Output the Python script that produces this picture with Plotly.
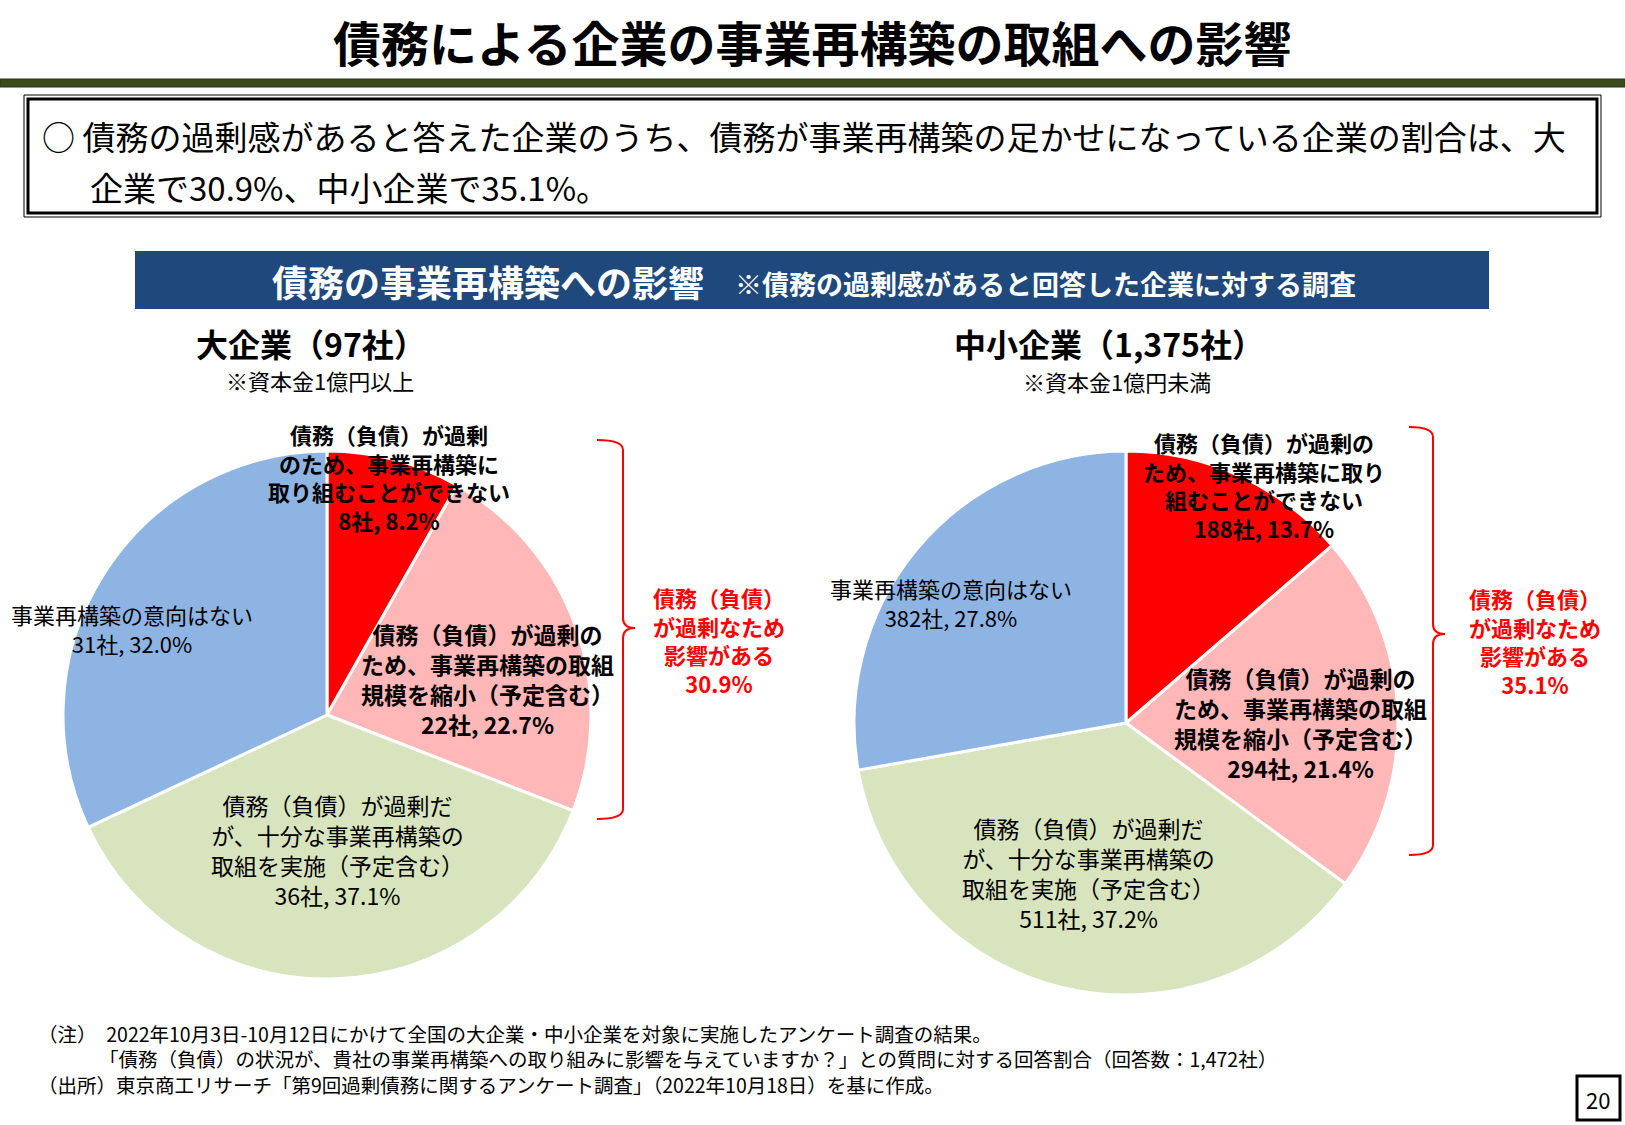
import plotly.graph_objects as go

W, H = 1625, 1125
FONT = "Noto Sans CJK JP"

# ---------------- data ----------------
categories = [
    "債務（負債）が過剰のため、事業再構築に取り組むことができない",
    "債務（負債）が過剰のため、事業再構築の取組規模を縮小（予定含む）",
    "債務（負債）が過剰だが、十分な事業再構築の取組を実施（予定含む）",
    "事業再構築の意向はない",
]
colors = ["#FF0000", "#FFB7B7", "#D7E4BD", "#8EB4E3"]

large_counts = [8, 22, 36, 31]
large_pcts = [8.2, 22.7, 37.1, 32.0]
sme_counts = [188, 294, 511, 382]
sme_pcts = [13.7, 21.4, 37.2, 27.8]

# label text as broken in the reference
large_label_lines = [
    "債務（負債）が過剰<br>のため、事業再構築に<br>取り組むことができない",
    "債務（負債）が過剰の<br>ため、事業再構築の取組<br>規模を縮小（予定含む）",
    "債務（負債）が過剰だ<br>が、十分な事業再構築の<br>取組を実施（予定含む）",
    "事業再構築の意向はない",
]
sme_label_lines = [
    "債務（負債）が過剰の<br>ため、事業再構築に取り<br>組むことができない",
    "債務（負債）が過剰の<br>ため、事業再構築の取組<br>規模を縮小（予定含む）",
    "債務（負債）が過剰だ<br>が、十分な事業再構築の<br>取組を実施（予定含む）",
    "事業再構築の意向はない",
]
bold_flags = [True, True, False, False]

large_title = "大企業（97社）"
large_note = "※資本金1億円以上"
sme_title = "中小企業（1,375社）"
sme_note = "※資本金1億円未満"
large_impact = "30.9%"
sme_impact = "35.1%"

title = "債務による企業の事業再構築の取組への影響"
summary = ["○ 債務の過剰感があると答えた企業のうち、債務が事業再構築の足かせになっている企業の割合は、大",
           "企業で30.9%、中小企業で35.1%。"]
header_main = "債務の事業再構築への影響"
header_sub = "※債務の過剰感があると回答した企業に対する調査"
notes = [
    "（注）　2022年10月3日-10月12日にかけて全国の大企業・中小企業を対象に実施したアンケート調査の結果。",
    "「債務（負債）の状況が、貴社の事業再構築への取り組みに影響を与えていますか？」との質問に対する回答割合（回答数：1,472社）",
    "（出所）東京商工リサーチ「第9回過剰債務に関するアンケート調査」（2022年10月18日）を基に作成。",
]
page_no = "20"


def X(px):
    return px / W


def Y(py):
    return 1 - py / H


fig = go.Figure()


def add_pie(values, cx, cy, r):
    fig.add_trace(go.Pie(
        values=values, labels=categories,
        marker=dict(colors=colors, line=dict(color="white", width=3)),
        sort=False, direction="clockwise", rotation=0,
        textinfo="none", hoverinfo="label+percent", showlegend=False,
        domain=dict(x=[X(cx - r), X(cx + r)], y=[Y(cy + r), Y(cy - r)]),
    ))


add_pie(large_pcts, 327, 715, 264)
add_pie(sme_pcts, 1126, 723, 272)

ann = []
shapes = []


def text(x, y, s, size, color="black", bold=False, xanchor="center", yanchor="middle", align="center"):
    ann.append(dict(
        x=X(x), y=Y(y), xref="paper", yref="paper", showarrow=False,
        text=f"<b>{s}</b>" if bold else s, xanchor=xanchor, yanchor=yanchor, align=align,
        font=dict(family=FONT, size=size, color=color),
    ))


# title
text(812, 41, title, 48, bold=True)
# olive rule
shapes.append(dict(type="rect", xref="paper", yref="paper", x0=0, x1=1, y0=Y(87), y1=Y(79),
                   fillcolor="#3C4B1E", line=dict(color="#2A3514", width=1)))
# summary box (thin outer + thick inner)
shapes.append(dict(type="rect", xref="paper", yref="paper", x0=X(24), x1=X(1601), y0=Y(217), y1=Y(95),
                   line=dict(color="black", width=1)))
shapes.append(dict(type="rect", xref="paper", yref="paper", x0=X(28), x1=X(1597), y0=Y(213), y1=Y(99),
                   line=dict(color="black", width=3)))
text(40, 136, summary[0], 33, xanchor="left")
text(88, 187, summary[1], 33, xanchor="left")

# header bar
shapes.append(dict(type="rect", xref="paper", yref="paper", x0=X(135), x1=X(1489), y0=Y(309), y1=Y(251),
                   fillcolor="#1F487C", line=dict(width=0)))
text(270, 281, header_main, 36, color="white", bold=True, xanchor="left")
text(733, 283, header_sub, 27, color="white", bold=True, xanchor="left")

# sub titles
text(311, 343, large_title, 32, bold=True)
text(320, 380, large_note, 22)
text(1109, 343, sme_title, 32, bold=True)
text(1117, 381, sme_note, 22)

# slice labels
large_pos = [(389, 477), (487, 679), (337, 850), (132, 628)]
sme_pos = [(1264, 485), (1300, 723), (1088, 873), (951, 602)]
for lines, counts, pcts, pos in [(large_label_lines, large_counts, large_pcts, large_pos),
                                 (sme_label_lines, sme_counts, sme_pcts, sme_pos)]:
    for i in range(4):
        s = f"{lines[i]}<br>{counts[i]:,}社, {pcts[i]:.1f}%"
        size = [22, 23, 23, 22][i]
        text(pos[i][0], pos[i][1], s, size, bold=bold_flags[i])


# braces
def brace(x_end, x_mid, x_tip, y0, y1, ymid):
    path = (f"M {X(x_end)} {Y(y0)} Q {X(x_mid)} {Y(y0)} {X(x_mid)} {Y(y0 + 10)} "
            f"L {X(x_mid)} {Y(ymid - 10)} Q {X(x_mid)} {Y(ymid)} {X(x_tip)} {Y(ymid)} "
            f"Q {X(x_mid)} {Y(ymid)} {X(x_mid)} {Y(ymid + 10)} "
            f"L {X(x_mid)} {Y(y1 - 10)} Q {X(x_mid)} {Y(y1)} {X(x_end)} {Y(y1)}")
    shapes.append(dict(type="path", xref="paper", yref="paper", path=path,
                       line=dict(color="#FF0000", width=2)))


brace(597, 623, 635, 440, 819, 628)
brace(1409, 1433, 1445, 427, 855, 634)

red_lbl = "債務（負債）<br>が過剰なため<br>影響がある<br>"
text(719, 640, red_lbl + large_impact, 22, color="#FF0000", bold=True)
text(1535, 641, red_lbl + sme_impact, 22, color="#FF0000", bold=True)

# notes
note_x = [36, 97, 36]
for i, n in enumerate(notes):
    text(note_x[i], 1033 + i * 25.5, n, 19.5, xanchor="left")

# page number
shapes.append(dict(type="rect", xref="paper", yref="paper", x0=X(1577), x1=X(1620), y0=Y(1120), y1=Y(1076),
                   line=dict(color="black", width=3)))
text(1598, 1099, page_no, 22)

fig.update_layout(
    width=W, height=H, margin=dict(l=0, r=0, t=0, b=0),
    paper_bgcolor="white", plot_bgcolor="white",
    annotations=ann, shapes=shapes,
    font=dict(family=FONT),
)
fig.write_html("out.html")
